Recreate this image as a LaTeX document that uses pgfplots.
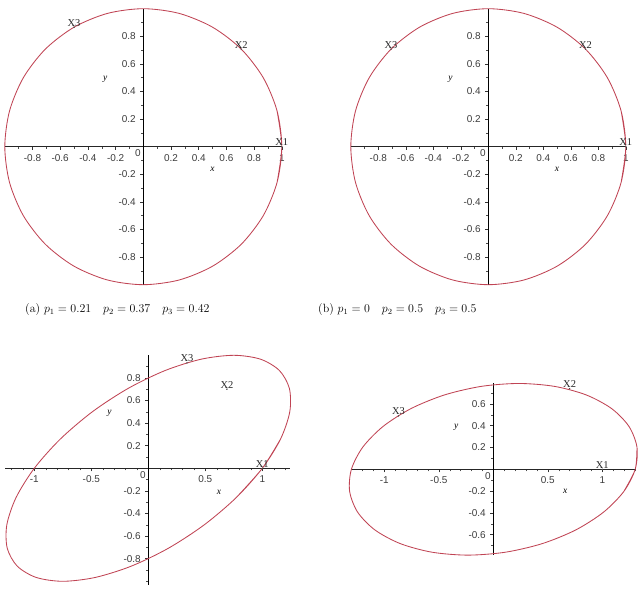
\documentclass[border=0pt]{standalone}
\usepackage{pgfplots}
\pgfplotsset{compat=1.18}
\usepackage{fontspec}
\newfontfamily\ticksf{Liberation Sans}
\newfontfamily\xserif{Liberation Serif}
\definecolor{curvecol}{RGB}{192,68,84}
\definecolor{tickgray}{RGB}{60,60,60}
\newcommand{\tickfont}{\ticksf\fontsize{10}{11}\selectfont}
\newcommand{\xlabfont}{\xserif\fontsize{10.5}{11}\selectfont}
\newcommand{\axlabfont}{\xserif\itshape\fontsize{9.5}{10}\selectfont}
\tikzset{zerolab/.style={font=\tickfont, text=tickgray, anchor=north east, inner sep=1bp, xshift=-1.5bp, yshift=-2bp}}
\pgfplotsset{
  maple/.style={
    axis lines=middle,
    axis line style={-},
    x axis line style={line width=0.8bp, black!85},
    y axis line style={line width=1.4bp, black},
    tick align=outside,
    major tick length=3bp,
    minor tick length=2bp,
    tick style={line width=0.5bp, black!80},
    minor tick style={line width=0.4bp, black!70},
    ticklabel style={font=\tickfont, text=tickgray},
    xticklabel style={anchor=north, yshift=-1bp},
    yticklabel style={anchor=east, xshift=-1bp},
    clip=false,
    anchor=origin,
  },
  curve/.style={color=curvecol, line width=0.85bp, smooth, no markers},
  pts/.style={only marks, mark=*, mark size=0.5bp, black!70,
    nodes near coords, point meta=explicit symbolic,
    nodes near coords style={anchor=south, inner sep=0.6bp, font=\xlabfont, text=black!85}},
}
\begin{document}
\begin{tikzpicture}
\useasboundingbox (0,0) rectangle (640bp,593bp);
% ---------- (a) ----------
\begin{axis}[maple, at={(143.3bp,446.3bp)},
  x=138.5bp, y=138bp, xmin=-1, xmax=1, ymin=-1, ymax=1,
  xtick={-0.8,-0.6,-0.4,-0.2,0.2,0.4,0.6,0.8,1},
  xticklabels={-0.8,-0.6,-0.4,-0.2,0.2,0.4,0.6,0.8,1},
  minor xtick={-0.9,-0.7,-0.5,-0.3,-0.1,0.1,0.3,0.5,0.7,0.9},
  ytick={-0.8,-0.6,-0.4,-0.2,0.2,0.4,0.6,0.8},
  yticklabels={-0.8,-0.6,-0.4,-0.2,0.2,0.4,0.6,0.8},
  minor ytick={-0.9,-0.7,-0.5,-0.3,-0.1,0.1,0.3,0.5,0.7,0.9}]
\addplot[curve] coordinates {(0.9659,-0.2588) (1,0) (0.9659,0.2588) (0.8660,0.5) (0.7071,0.7071) (0.5,0.8660) (0.2588,0.9659) (0,1) (-0.2588,0.9659) (-0.5,0.8660) (-0.7071,0.7071) (-0.8660,0.5) (-0.9659,0.2588) (-1,0) (-0.9659,-0.2588) (-0.8660,-0.5) (-0.7071,-0.7071) (-0.5,-0.8660) (-0.2588,-0.9659) (0,-1) (0.2588,-0.9659) (0.5,-0.8660) (0.7071,-0.7071) (0.8660,-0.5) (0.9659,-0.2588) (1,0) (0.9659,0.2588)};
\addplot[pts] coordinates {(1,0)[X1] (0.7071,0.7071)[X2] (-0.5,0.8660)[X3]};
\node[zerolab] at (axis cs:0,0) {0};
\node[font=\axlabfont] at (axis cs:0.5,-0.167) {x};
\node[font=\axlabfont] at (axis cs:-0.275,0.49) {y};
\end{axis}
% ---------- (b) ----------
\begin{axis}[maple, at={(488.3bp,446.3bp)},
  x=137.5bp, y=138bp, xmin=-1, xmax=1, ymin=-1, ymax=1,
  xtick={-0.8,-0.6,-0.4,-0.2,0.2,0.4,0.6,0.8,1},
  xticklabels={-0.8,-0.6,-0.4,-0.2,0.2,0.4,0.6,0.8,1},
  minor xtick={-0.9,-0.7,-0.5,-0.3,-0.1,0.1,0.3,0.5,0.7,0.9},
  ytick={-0.8,-0.6,-0.4,-0.2,0.2,0.4,0.6,0.8},
  yticklabels={-0.8,-0.6,-0.4,-0.2,0.2,0.4,0.6,0.8},
  minor ytick={-0.9,-0.7,-0.5,-0.3,-0.1,0.1,0.3,0.5,0.7,0.9}]
\addplot[curve] coordinates {(0.9659,-0.2588) (1,0) (0.9659,0.2588) (0.8660,0.5) (0.7071,0.7071) (0.5,0.8660) (0.2588,0.9659) (0,1) (-0.2588,0.9659) (-0.5,0.8660) (-0.7071,0.7071) (-0.8660,0.5) (-0.9659,0.2588) (-1,0) (-0.9659,-0.2588) (-0.8660,-0.5) (-0.7071,-0.7071) (-0.5,-0.8660) (-0.2588,-0.9659) (0,-1) (0.2588,-0.9659) (0.5,-0.8660) (0.7071,-0.7071) (0.8660,-0.5) (0.9659,-0.2588) (1,0) (0.9659,0.2588)};
\addplot[pts] coordinates {(1,0)[X1] (0.7071,0.7071)[X2] (-0.7071,0.7071)[X3]};
\node[zerolab] at (axis cs:0,0) {0};
\node[font=\axlabfont] at (axis cs:0.5,-0.167) {x};
\node[font=\axlabfont] at (axis cs:-0.275,0.49) {y};
\end{axis}
% ---------- bottom left ----------
\begin{axis}[maple, at={(148.3bp,124.7bp)},
  x=114bp, y=113bp, xmin=-1.257, xmax=1.243, ymin=-1.03, ymax=1.0,
  xtick={-1,-0.5,0.5,1},
  xticklabels={-1,-0.5,0.5,1},
  minor xtick={-1.2,-1.1,-0.9,-0.8,-0.7,-0.6,-0.4,-0.3,-0.2,-0.1,0.1,0.2,0.3,0.4,0.6,0.7,0.8,0.9,1.1,1.2},
  ytick={-0.8,-0.6,-0.4,-0.2,0.2,0.4,0.6,0.8},
  yticklabels={-0.8,-0.6,-0.4,-0.2,0.2,0.4,0.6,0.8},
  minor ytick={-1,-0.9,-0.7,-0.5,-0.3,-0.1,0.1,0.3,0.5,0.7,0.9}]
\addplot[curve] coordinates {(0.7718,-0.2588) (1,0) (1.1600,0.2588) (1.2410,0.5) (1.2374,0.7071) (1.1495,0.8660) (0.9832,0.9659) (0.75,1) (0.4656,0.9659) (0.1495,0.8660) (-0.1768,0.7071) (-0.4910,0.5) (-0.7718,0.2588) (-1,0) (-1.1600,-0.2588) (-1.2410,-0.5) (-1.2374,-0.7071) (-1.1495,-0.8660) (-0.9832,-0.9659) (-0.75,-1) (-0.4656,-0.9659) (-0.1495,-0.8660) (0.1768,-0.7071) (0.4910,-0.5) (0.7718,-0.2588) (1,0) (1.1600,0.2588)};
\addplot[pts] coordinates {(1,0)[X1] (0.69,0.70)[X2] (0.34,0.933)[X3]};
\node[zerolab] at (axis cs:0,0) {0};
\node[font=\axlabfont] at (axis cs:0.62,-0.21) {x};
\node[font=\axlabfont] at (axis cs:-0.34,0.49) {y};
\end{axis}
% ---------- bottom right ----------
\begin{axis}[maple, at={(493.3bp,123.7bp)},
  x=109bp, y=109bp, xmin=-1.305, xmax=1.31, ymin=-0.785, ymax=0.79,
  xtick={-1,-0.5,0.5,1},
  xticklabels={-1,-0.5,0.5,1},
  minor xtick={-1.2,-1.1,-0.9,-0.8,-0.7,-0.6,-0.4,-0.3,-0.2,-0.1,0.1,0.2,0.3,0.4,0.6,0.7,0.8,0.9,1.1,1.2,1.3},
  ytick={-0.6,-0.4,-0.2,0.2,0.4,0.6},
  yticklabels={-0.6,-0.4,-0.2,0.2,0.4,0.6},
  minor ytick={-0.7,-0.5,-0.3,-0.1,0.1,0.3,0.5,0.7}]
\addplot[curve] coordinates {(1.1971,-0.2038) (1.3019,0) (1.3179,0.2038) (1.2443,0.3937) (1.0857,0.5568) (0.8532,0.6819) (0.5624,0.7606) (0.2335,0.7874) (-0.1114,0.7606) (-0.4488,0.6819) (-0.7555,0.5568) (-1.0107,0.3937) (-1.1971,0.2038) (-1.3019,0) (-1.3179,-0.2038) (-1.2443,-0.3937) (-1.0857,-0.5568) (-0.8532,-0.6819) (-0.5624,-0.7606) (-0.2335,-0.7874) (0.1114,-0.7606) (0.4488,-0.6819) (0.7555,-0.5568) (1.0107,-0.3937) (1.1971,-0.2038) (1.3019,0) (1.3179,0.2038)};
\addplot[pts] coordinates {(1,0)[X1] (0.70,0.74)[X2] (-0.87,0.49)[X3]};
\node[zerolab] at (axis cs:0,0) {0};
\node[font=\axlabfont] at (axis cs:0.66,-0.205) {x};
\node[font=\axlabfont] at (axis cs:-0.34,0.385) {y};
\end{axis}
% ---------- captions ----------
\node[anchor=base west, inner sep=0, font=\fontsize{12}{14}\selectfont] at (25bp,280bp)
  {(a) $p_1=0.21\quad p_2=0.37\quad p_3=0.42$};
\node[anchor=base west, inner sep=0, font=\fontsize{12}{14}\selectfont] at (318bp,280bp)
  {(b) $p_1=0\quad p_2=0.5\quad p_3=0.5$};
\end{tikzpicture}
\end{document}
